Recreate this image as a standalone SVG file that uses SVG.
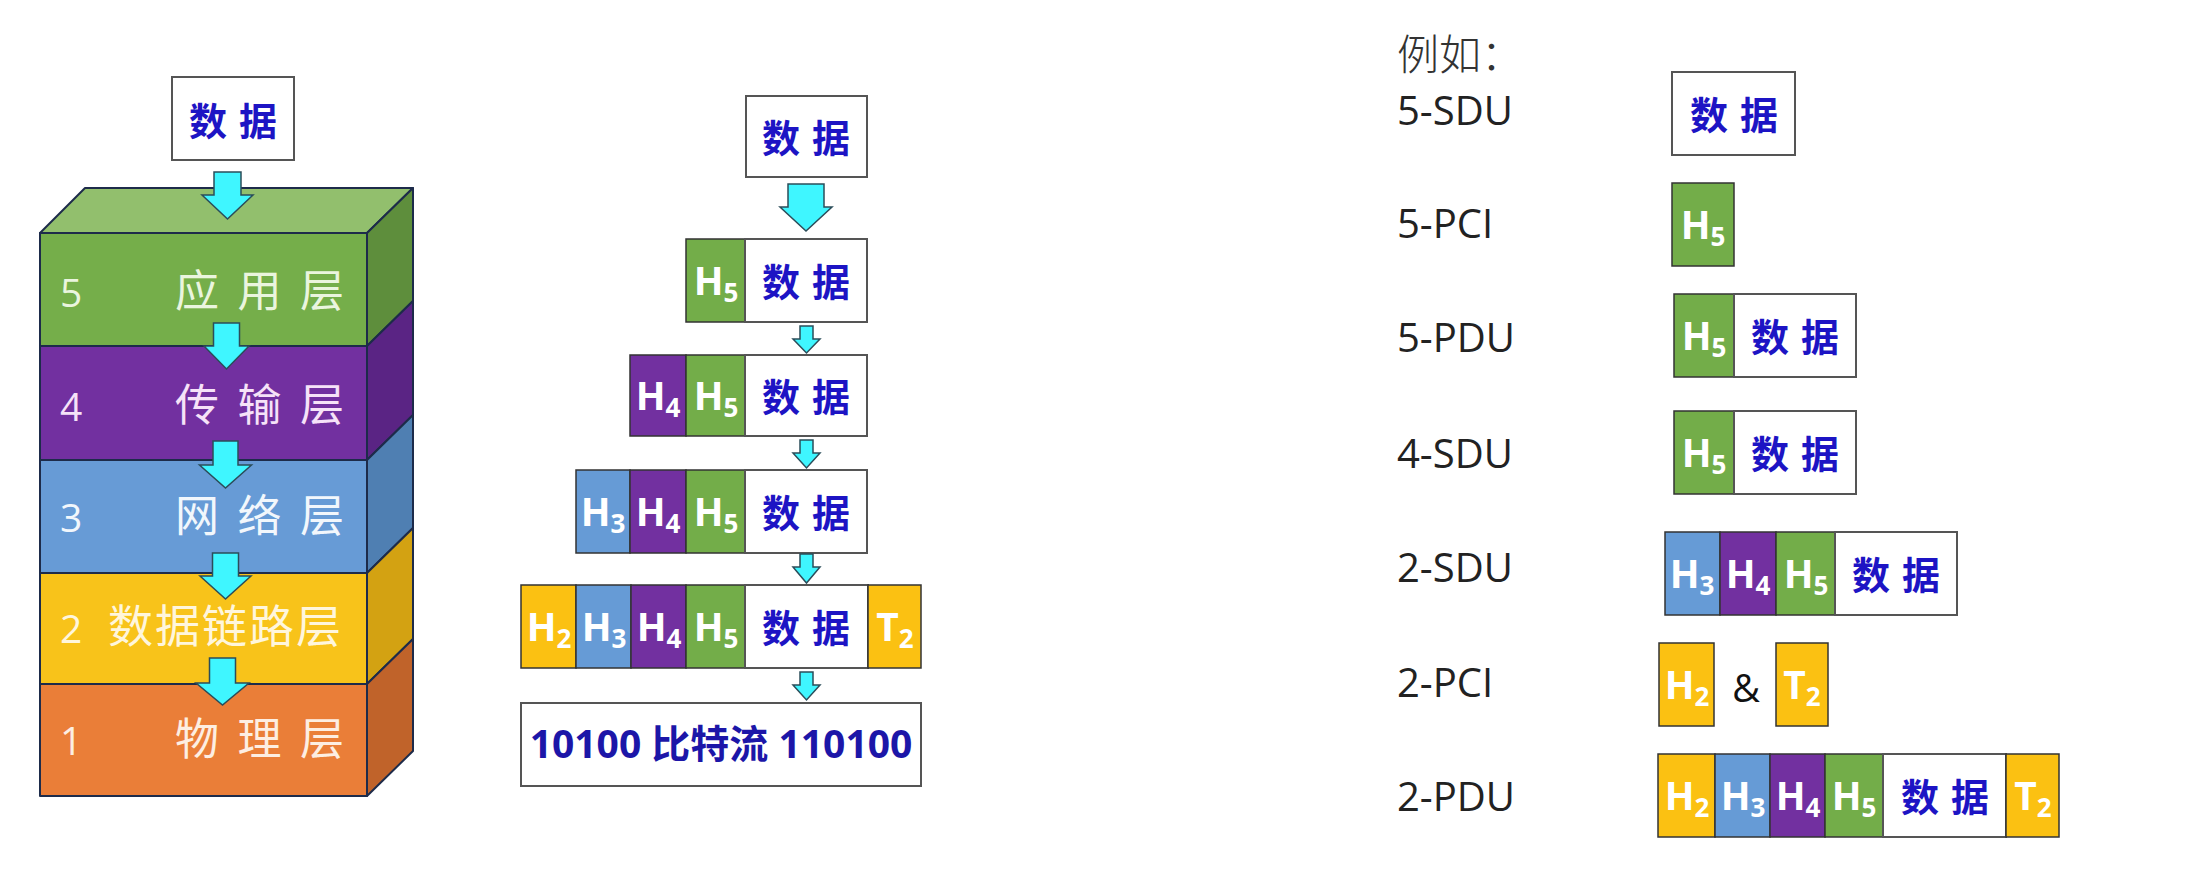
<svg xmlns="http://www.w3.org/2000/svg" width="2209" height="874" viewBox="0 0 2209 874">
<style>
.bg{fill:#fff}
.box{fill:#fff;stroke:#555;stroke-width:2}
.g{fill:#73ad49;stroke:#333;stroke-width:1.5}
.p{fill:#7230a0;stroke:#333;stroke-width:1.5}
.b{fill:#669bd6;stroke:#333;stroke-width:1.5}
.y{fill:#fbc112;stroke:#333;stroke-width:1.5}
.hl{font-family:"Open Sans","DejaVu Sans",sans-serif;font-weight:700;font-size:39px;fill:#fff;text-anchor:middle}
.sub{font-size:26px}
.dt{font-family:"Noto Sans CJK SC",sans-serif;font-weight:700;font-size:38px;fill:#1d14c4;letter-spacing:12px;text-anchor:middle}
.bits{font-family:"Open Sans","Noto Sans CJK SC",sans-serif;font-weight:700;font-size:39px;fill:#1c16a8;text-anchor:middle}
.lbl{font-family:"Open Sans",sans-serif;font-size:40px;fill:#222}
.arr{fill:#3ff6ff;stroke:#2b4d5a;stroke-width:1.5}
.edge{stroke:#1d2b4a;stroke-width:2;stroke-linejoin:round}
.num{font-family:"Open Sans",sans-serif;font-size:39px}
.cn{font-family:"Noto Sans CJK SC",sans-serif;font-size:44px;letter-spacing:18.5px}
</style>
<rect class="bg" x="0" y="0" width="2209" height="874"/>

<!-- Left: layer stack -->
<g id="stack-data">
<rect class="box" x="172" y="77" width="122" height="83"/>
<text class="dt" x="239" y="135">数据</text>
</g>
<g id="layer5">
<polygon class="edge" fill="#92bf6d" points="40,233 85,188 413,188 367,233"/>
<rect class="edge" fill="#75ae4a" x="40" y="233" width="327" height="113"/>
<polygon class="edge" fill="#5e8e3c" points="367,233 413,188 413,301 367,346"/>
<text class="num" x="60" y="307" fill="#eaf5de">5</text>
<text class="cn" x="175" y="307" fill="#eaf5de">应用层</text>
</g>
<g id="layer4">
<rect class="edge" fill="#7230a0" x="40" y="346" width="327" height="114"/>
<polygon class="edge" fill="#5a2484" points="367,346 413,301 413,415 367,460"/>
<text class="num" x="60" y="421" fill="#f6e2f8">4</text>
<text class="cn" x="175" y="421" fill="#f6e2f8">传输层</text>
</g>
<g id="layer3">
<rect class="edge" fill="#679bd6" x="40" y="460" width="327" height="113"/>
<polygon class="edge" fill="#4f7fb2" points="367,460 413,415 413,528 367,573"/>
<text class="num" x="60" y="532" fill="#f2f7fc">3</text>
<text class="cn" x="175" y="532" fill="#f2f7fc">网络层</text>
</g>
<g id="layer2">
<rect class="edge" fill="#f8c31a" x="40" y="573" width="327" height="111"/>
<polygon class="edge" fill="#d3a212" points="367,573 413,528 413,639 367,684"/>
<text class="num" x="60" y="643" fill="#fff6dc">2</text>
<text class="cn" x="108" y="643" fill="#fff6dc" style="font-size:45px;letter-spacing:2px">数据链路层</text>
</g>
<g id="layer1">
<rect class="edge" fill="#ea7e38" x="40" y="684" width="327" height="112"/>
<polygon class="edge" fill="#c0632a" points="367,684 413,639 413,751 367,796"/>
<text class="num" x="60" y="755" fill="#fdeee2">1</text>
<text class="cn" x="175" y="755" fill="#fdeee2">物理层</text>
</g>

<!-- Middle: encapsulation -->
<g id="mid-data">
<rect class="box" x="746" y="96" width="121" height="81"/>
<text class="dt" x="812" y="152">数据</text>
</g>
<g id="mid-l5">
<rect class="g" x="686" y="239" width="59" height="83"/>
<rect class="box" x="745" y="239" width="122" height="83"/>
<text class="hl" x="716" y="295">H<tspan class="sub" dy="7">5</tspan></text>
<text class="dt" x="812" y="296">数据</text>
</g>
<g id="mid-l4">
<rect class="p" x="630" y="355" width="56" height="81"/>
<rect class="g" x="686" y="355" width="59" height="81"/>
<rect class="box" x="745" y="355" width="122" height="81"/>
<text class="hl" x="658" y="410">H<tspan class="sub" dy="7">4</tspan></text>
<text class="hl" x="716" y="410">H<tspan class="sub" dy="7">5</tspan></text>
<text class="dt" x="812" y="411">数据</text>
</g>
<g id="mid-l3">
<rect class="b" x="576" y="470" width="54" height="83"/>
<rect class="p" x="630" y="470" width="56" height="83"/>
<rect class="g" x="686" y="470" width="59" height="83"/>
<rect class="box" x="745" y="470" width="122" height="83"/>
<text class="hl" x="603" y="526">H<tspan class="sub" dy="7">3</tspan></text>
<text class="hl" x="658" y="526">H<tspan class="sub" dy="7">4</tspan></text>
<text class="hl" x="716" y="526">H<tspan class="sub" dy="7">5</tspan></text>
<text class="dt" x="812" y="527">数据</text>
</g>
<g id="mid-l2">
<rect class="y" x="521" y="585" width="55" height="83"/>
<rect class="b" x="576" y="585" width="55" height="83"/>
<rect class="p" x="631" y="585" width="55" height="83"/>
<rect class="g" x="686" y="585" width="59" height="83"/>
<rect class="box" x="745" y="585" width="123" height="83"/>
<rect class="y" x="868" y="585" width="53" height="83"/>
<text class="hl" x="549" y="641">H<tspan class="sub" dy="7">2</tspan></text>
<text class="hl" x="604" y="641">H<tspan class="sub" dy="7">3</tspan></text>
<text class="hl" x="659" y="641">H<tspan class="sub" dy="7">4</tspan></text>
<text class="hl" x="716" y="641">H<tspan class="sub" dy="7">5</tspan></text>
<text class="dt" x="812" y="642">数据</text>
<text class="hl" x="895" y="641">T<tspan class="sub" dy="7">2</tspan></text>
</g>
<g id="mid-bits">
<rect class="box" x="521" y="703" width="400" height="83"/>
<text class="bits" x="721" y="758">10100 比特流 110100</text>
</g>

<!-- Right: examples -->
<text class="lbl" x="1397" y="70" style="font-family:'Noto Sans CJK SC',sans-serif;font-weight:300;font-size:42px;fill:#333">例如：</text>
<g id="ex-5sdu">
<text class="lbl" x="1397" y="125">5-SDU</text>
<rect class="box" x="1672" y="72" width="123" height="83"/>
<text class="dt" x="1740" y="129">数据</text>
</g>
<g id="ex-5pci">
<text class="lbl" x="1397" y="238">5-PCI</text>
<rect class="g" x="1672" y="183" width="62" height="83"/>
<text class="hl" x="1703" y="239">H<tspan class="sub" dy="7">5</tspan></text>
</g>
<g id="ex-5pdu">
<text class="lbl" x="1397" y="352">5-PDU</text>
<rect class="g" x="1674" y="294" width="60" height="83"/>
<rect class="box" x="1734" y="294" width="122" height="83"/>
<text class="hl" x="1704" y="350">H<tspan class="sub" dy="7">5</tspan></text>
<text class="dt" x="1801" y="351">数据</text>
</g>
<g id="ex-4sdu">
<text class="lbl" x="1397" y="468">4-SDU</text>
<rect class="g" x="1674" y="411" width="60" height="83"/>
<rect class="box" x="1734" y="411" width="122" height="83"/>
<text class="hl" x="1704" y="467">H<tspan class="sub" dy="7">5</tspan></text>
<text class="dt" x="1801" y="468">数据</text>
</g>
<g id="ex-2sdu">
<text class="lbl" x="1397" y="582">2-SDU</text>
<rect class="b" x="1665" y="532" width="55" height="83"/>
<rect class="p" x="1720" y="532" width="56" height="83"/>
<rect class="g" x="1776" y="532" width="59" height="83"/>
<rect class="box" x="1835" y="532" width="122" height="83"/>
<text class="hl" x="1692" y="588">H<tspan class="sub" dy="7">3</tspan></text>
<text class="hl" x="1748" y="588">H<tspan class="sub" dy="7">4</tspan></text>
<text class="hl" x="1806" y="588">H<tspan class="sub" dy="7">5</tspan></text>
<text class="dt" x="1902" y="589">数据</text>
</g>
<g id="ex-2pci">
<text class="lbl" x="1397" y="697">2-PCI</text>
<rect class="y" x="1659" y="643" width="55" height="83"/>
<text class="hl" x="1687" y="699">H<tspan class="sub" dy="7">2</tspan></text>
<text class="lbl" x="1746" y="702" style="text-anchor:middle;font-size:38px;fill:#111">&amp;</text>
<rect class="y" x="1776" y="643" width="52" height="83"/>
<text class="hl" x="1802" y="699">T<tspan class="sub" dy="7">2</tspan></text>
</g>
<g id="ex-2pdu">
<text class="lbl" x="1397" y="811">2-PDU</text>
<rect class="y" x="1658" y="754" width="57" height="83"/>
<rect class="b" x="1715" y="754" width="55" height="83"/>
<rect class="p" x="1770" y="754" width="55" height="83"/>
<rect class="g" x="1825" y="754" width="58" height="83"/>
<rect class="box" x="1883" y="754" width="123" height="83"/>
<rect class="y" x="2006" y="754" width="53" height="83"/>
<text class="hl" x="1687" y="810">H<tspan class="sub" dy="7">2</tspan></text>
<text class="hl" x="1743" y="810">H<tspan class="sub" dy="7">3</tspan></text>
<text class="hl" x="1798" y="810">H<tspan class="sub" dy="7">4</tspan></text>
<text class="hl" x="1854" y="810">H<tspan class="sub" dy="7">5</tspan></text>
<text class="dt" x="1951" y="811">数据</text>
<text class="hl" x="2033" y="810">T<tspan class="sub" dy="7">2</tspan></text>
</g>

<!-- Connectors (block arrows) -->
<g id="connectors">
<path class="arr" d="M214,172 H241 V195 H253 L227.5,219 L202,195 H214 Z"/>
<path class="arr" d="M213.5,323 H239.5 V346 H249 L226.5,369 L204,346 H213.5 Z"/>
<path class="arr" d="M213,441 H238 V465 H251.5 L225.5,488 L199.5,465 H213 Z"/>
<path class="arr" d="M212.5,553 H238.5 V576 H251 L225.5,599 L200,576 H212.5 Z"/>
<path class="arr" d="M209.5,658 H235.5 V683 H249 L222.5,705 L196,683 H209.5 Z"/>
<path class="arr" d="M788,184 H824 V207 H832 L806,231 L780,207 H788 Z"/>
<path class="arr" d="M800,326 H813 V339 H820 L806.5,353 L793,339 H800 Z"/>
<path class="arr" d="M800,440 H813 V453 H820 L806.5,468 L793,453 H800 Z"/>
<path class="arr" d="M800,554 H813 V567 H820 L806.5,583 L793,567 H800 Z"/>
<path class="arr" d="M800,672 H813 V685 H820 L806.5,700 L793,685 H800 Z"/>
</g>
</svg>
